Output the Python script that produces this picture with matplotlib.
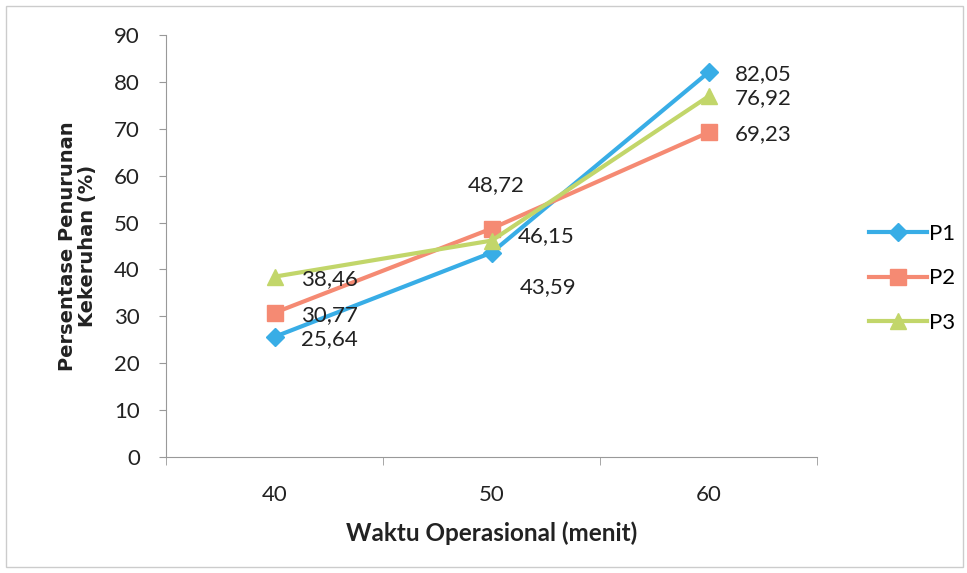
import matplotlib
matplotlib.use("Agg")
import matplotlib.pyplot as plt
from matplotlib.patches import Rectangle

# Daten
waktu = ["40", "50", "60"]
p1 = [25.64, 43.59, 82.05]
p2 = [30.77, 48.72, 69.23]
p3 = [38.46, 46.15, 76.92]
label_p1 = ["25,64", "43,59", "82,05"]
label_p2 = ["30,77", "48,72", "69,23"]
label_p3 = ["38,46", "46,15", "76,92"]

plt.rcParams['font.family'] = ["Lato", "DejaVu Sans"]

fig = plt.figure(figsize=(9.67, 5.73), dpi=100)
ax = fig.add_axes([0.172, 0.2025, 0.673, 0.7365])

x = list(range(len(waktu)))
c1, c2, c3 = "#38ADE6", "#F58A73", "#C2D66A"

ax.plot(x, p1, color=c1, lw=3, marker="D", ms=9, label="P1")
ax.plot(x, p2, color=c2, lw=3, marker="s", ms=11, label="P2")
ax.plot(x, p3, color=c3, lw=3, marker="^", ms=12, label="P3")

# Beschriftungen (Offsets in Pixeln)
offs1 = [(26, -2), (28, -35), (26, -2)]
offs2 = [(26, -2), (4, 43), (26, -2)]
offs3 = [(26, -2), (26, 4), (26, -2)]
for vals, labs, offs in [(p1, label_p1, offs1), (p2, label_p2, offs2), (p3, label_p3, offs3)]:
    for i in range(len(vals)):
        ha = "center" if offs[i] == (4, 43) else "left"
        ax.annotate(labs[i], (x[i], vals[i]), xytext=offs[i], textcoords="offset pixels",
                    ha=ha, va="center", fontsize=16, color="#222222")

ax.set_xlim(-0.5, 2.5)
ax.set_ylim(0, 90)
ax.set_yticks(range(0, 91, 10))
ax.set_xticks(x)
ax.set_xticklabels(waktu)
ax.set_xticks([-0.5, 0.5, 1.5, 2.5], minor=True)
ax.tick_params(axis="x", which="major", length=0, pad=20, labelsize=16, colors="#222222")
ax.tick_params(axis="x", which="minor", length=6, direction="out", color="#999999")
ax.tick_params(axis="y", length=5, direction="out", color="#999999", labelsize=16,
               labelcolor="#222222", pad=14)

for s in ["top", "right"]:
    ax.spines[s].set_visible(False)
for s in ["left", "bottom"]:
    ax.spines[s].set_color("#999999")

ax.set_xlabel("Waktu Operasional (menit)", fontsize=17.5, fontweight="bold",
              color="#222222", labelpad=12)
ax.set_ylabel("Persentase Penurunan\nKekeruhan (%)", fontsize=14, fontweight="bold",
              color="#222222", labelpad=12, family=["DejaVu Sans"], linespacing=1.1)

fig.legend(loc="center left", bbox_to_anchor=(0.878, 0.514), frameon=False,
           fontsize=16, handlelength=2.6, labelspacing=1.1, handletextpad=0.1)

fig.patches.append(Rectangle((0.006, 0.01), 0.99, 0.98, transform=fig.transFigure,
                             fill=False, edgecolor="#cccccc", lw=1))

plt.savefig("out.png", dpi=100)
